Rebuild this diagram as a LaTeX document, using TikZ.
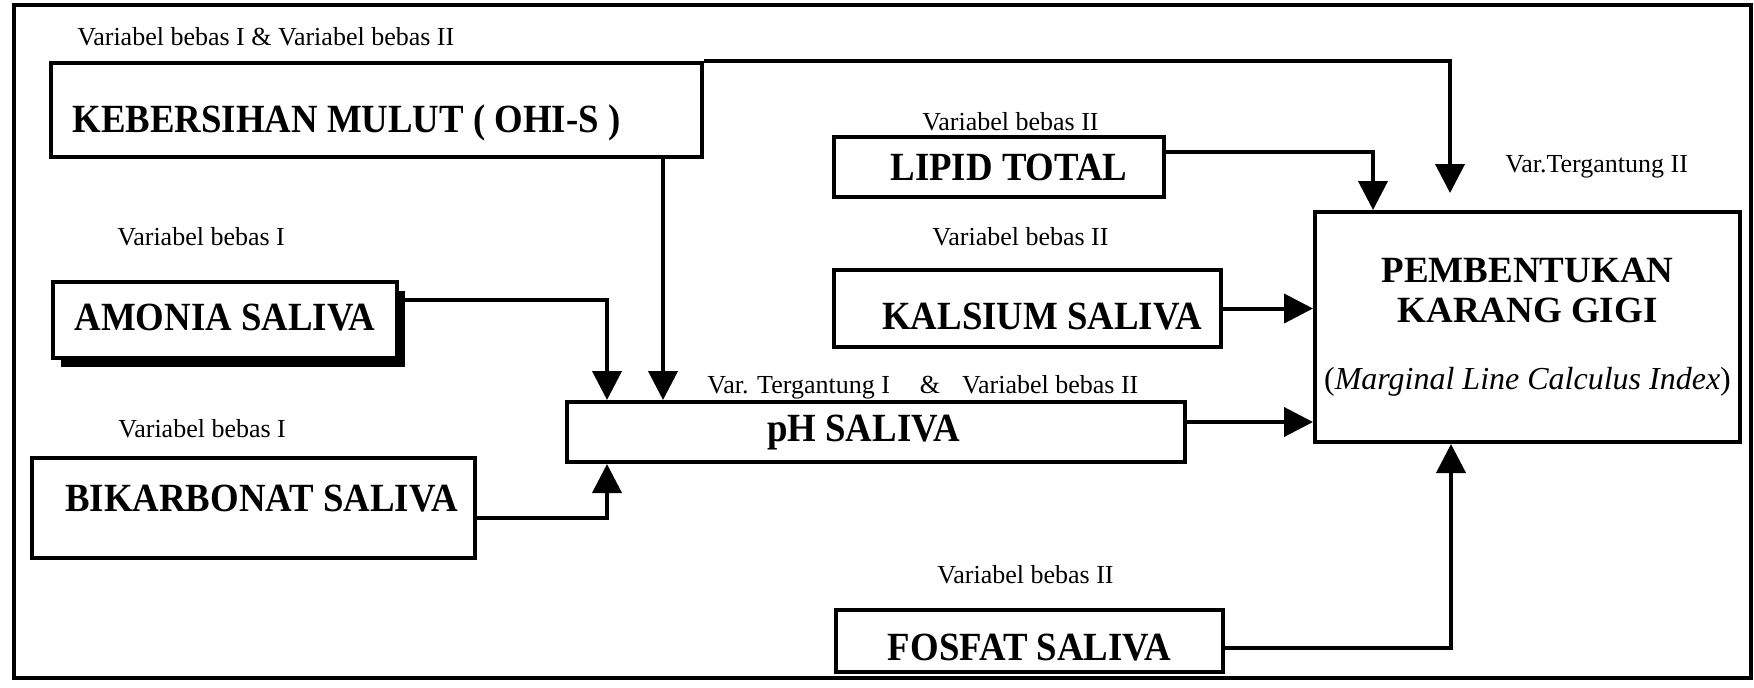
\documentclass[tikz,border=0pt]{standalone}
\usepackage{fontspec}
\setmainfont{Liberation Serif}
\newfontfamily\bxfont[FakeStretch=0.92]{Liberation Serif}
\usetikzlibrary{arrows.meta,shadows}
\newcommand{\bt}[3]{\makebox[0pt]{\hspace*{#1}\raisebox{\dimexpr#2-0.331em\relax}[0pt][0pt]{#3}}}
\begin{document}
\begin{tikzpicture}[x=0.5pt,y=-0.5pt,
  box/.style={draw, line width=2pt, fill=white, inner sep=0pt, font=\bxfont\bfseries\fontsize{20}{22}\selectfont},
  lab/.style={inner sep=0pt, anchor=base west, font=\fontsize{13}{15}\selectfont},
  conn/.style={line width=2pt, -{Triangle[length=14.5pt,width=14.5pt]}}]
\useasboundingbox (0,0) rectangle (1754,687);
\draw[line width=1.75pt] (14,5) rectangle (1751,678);

% boxes
\node[box, minimum width=325.5pt, minimum height=47pt] (keb) at (376.5,110) {\bt{-30pt}{-4.5pt}{KEBERSIHAN MULUT ( OHI-S )}};
\node[box, drop shadow={shadow xshift=4pt, shadow yshift=-4.5pt, fill=black, opacity=1}, minimum width=172pt, minimum height=38pt] (amo) at (225,320) {\bt{0pt}{1.5pt}{AMONIA SALIVA}};
\node[box, minimum width=221.5pt, minimum height=50pt] (bik) at (253.5,508) {\bt{8pt}{5pt}{BIKARBONAT SALIVA}};
\node[box, minimum width=309pt, minimum height=30pt] (ph) at (876,432) {\bt{-12.5pt}{2pt}{pH SALIVA}};
\node[box, minimum width=165pt, minimum height=30pt] (lip) at (999,167) {\bt{10pt}{0pt}{LIPID TOTAL}};
\node[box, minimum width=193.5pt, minimum height=38.5pt] (kal) at (1027.5,308.5) {\bt{14.5pt}{-3.75pt}{KALSIUM SALIVA}};
\node[box, minimum width=193.5pt, minimum height=31pt] (fos) at (1029.5,641) {\bt{0pt}{-3pt}{FOSFAT SALIVA}};
\node[box, font=\bfseries\fontsize{18.5}{20}\selectfont, align=center, minimum width=212.5pt, minimum height=115pt] (pem) at (1527.5,327) {PEMBENTUKAN\\KARANG GIGI\\[13.5pt]\normalfont\fontsize{16}{18}\selectfont(\textit{Marginal Line Calculus Index})};

% labels
\node[lab] (l1) at (77,45) {Variabel bebas I \& Variabel bebas II};
\node[lab] (lv1) at (117,245) {Variabel bebas I};
\node[lab] (lv2) at (118,437) {Variabel bebas I};
\node[lab] (llip) at (922,130) {Variabel bebas II};
\node[lab] (lkal) at (932,245) {Variabel bebas II};
\node[lab] (lfos) at (937,583) {Variabel bebas II};
\node[lab] (lpem) at (1505,172) {Var.Tergantung II};
\node[lab] (lph) at (707,393) {Var. Tergantung I\hspace{15pt}\&\hspace{11pt}Variabel bebas II};

% helper coordinates
\coordinate (kx) at (663,0);
\coordinate (ax) at (607,0);
\coordinate (lx) at (1373,0);
\coordinate (fx) at (1451,0);
\coordinate (kt) at (1450,193);
\coordinate (phr) at ([yshift=5pt]ph.east);

% connectors
\draw[conn] (keb.north east) -| (kt);
\draw[conn] (keb.south -| kx) -- (ph.north -| kx);
\draw[conn] ([yshift=10pt]amo.east) -| (ph.north -| ax);
\draw[conn] ([yshift=-5pt]bik.east) -| (ph.south -| ax);
\draw[conn] (phr) -- (phr -| pem.west);
\draw[conn] ([yshift=7.5pt]lip.east) -| (pem.north -| lx);
\draw[conn] (kal.east) -- (kal.east -| pem.west);
\draw[conn] ([yshift=-3.5pt]fos.east) -| (pem.south -| fx);
\end{tikzpicture}
\end{document}
